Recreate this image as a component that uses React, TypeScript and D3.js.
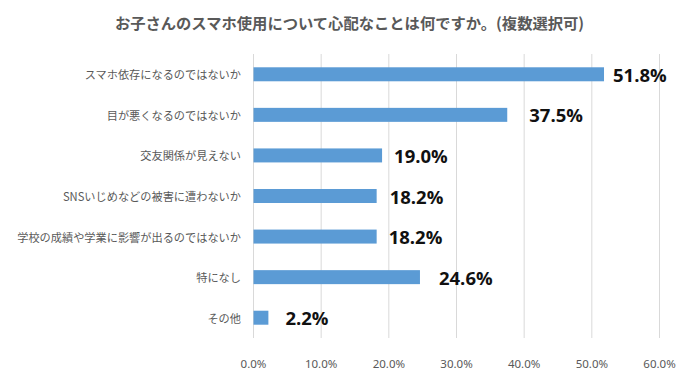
import React from "react";
import * as d3 from "d3";

const categories = [
  "スマホ依存になるのではないか",
  "目が悪くなるのではないか",
  "交友関係が見えない",
  "SNSいじめなどの被害に遭わないか",
  "学校の成績や学業に影響が出るのではないか",
  "特になし",
  "その他",
];
const values = [51.8, 37.5, 19.0, 18.2, 18.2, 24.6, 2.2];
const xTicks = [0, 10, 20, 30, 40, 50, 60];
const title = "お子さんのスマホ使用について心配なことは何ですか。(複数選択可)";
// manual label nudges (style)
const labelGap = [9, 22, 12, 13, 12, 19, 17];

const W = 689;
const H = 381;
const M = { left: 253.5, right: 29.5, top: 54, bottom: 43 };

export default function App() {
  const x = d3.scaleLinear().domain([0, 60]).range([M.left, W - M.right]);
  const y = d3
    .scaleBand<string>()
    .domain(categories)
    .range([M.top, H - M.bottom])
    .paddingInner(0.655)
    .paddingOuter(0.3275);
  const jp = "'Noto Sans CJK JP', 'Noto Sans', sans-serif";
  const grey = "#595959";
  return (
    <svg
      width={W}
      height={H}
      style={{ position: "absolute", left: 0, top: 0, background: "#fff" }}
    >
      <rect width={W} height={H} fill="#fff" />
      <text
        x={349.5}
        y={22}
        textAnchor="middle"
        dominantBaseline="central"
        fontFamily={jp}
        fontWeight="bold"
        fontSize={15.3}
        fill={grey}
      >
        {title}
      </text>
      {xTicks.map((t) => (
        <g key={t}>
          <line
            x1={x(t)}
            x2={x(t)}
            y1={M.top}
            y2={H - M.bottom}
            stroke="#d9d9d9"
            strokeWidth={1}
          />
          <text
            x={x(t)}
            y={363}
            textAnchor="middle"
            dominantBaseline="central"
            fontFamily="'Noto Sans', sans-serif"
            fontSize={11.5}
            fill={grey}
          >
            {d3.format(".1f")(t) + "%"}
          </text>
        </g>
      ))}
      {categories.map((c, i) => {
        const cy = (y(c) as number) + y.bandwidth() / 2;
        return (
          <g key={c}>
            <text
              x={241}
              y={cy}
              textAnchor="end"
              dominantBaseline="central"
              fontFamily={jp}
              fontSize={11.2}
              fill={grey}
            >
              {c}
            </text>
            <rect
              x={x(0)}
              y={y(c)}
              width={x(values[i]) - x(0)}
              height={y.bandwidth()}
              fill="#5B9BD5"
            />
            <text
              x={x(values[i]) + labelGap[i]}
              y={cy}
              dominantBaseline="central"
              fontFamily="'Open Sans', sans-serif"
              fontWeight="bold"
              fontSize={18.5}
              fill="#111"
            >
              {d3.format(".1f")(values[i]) + "%"}
            </text>
          </g>
        );
      })}
    </svg>
  );
}
